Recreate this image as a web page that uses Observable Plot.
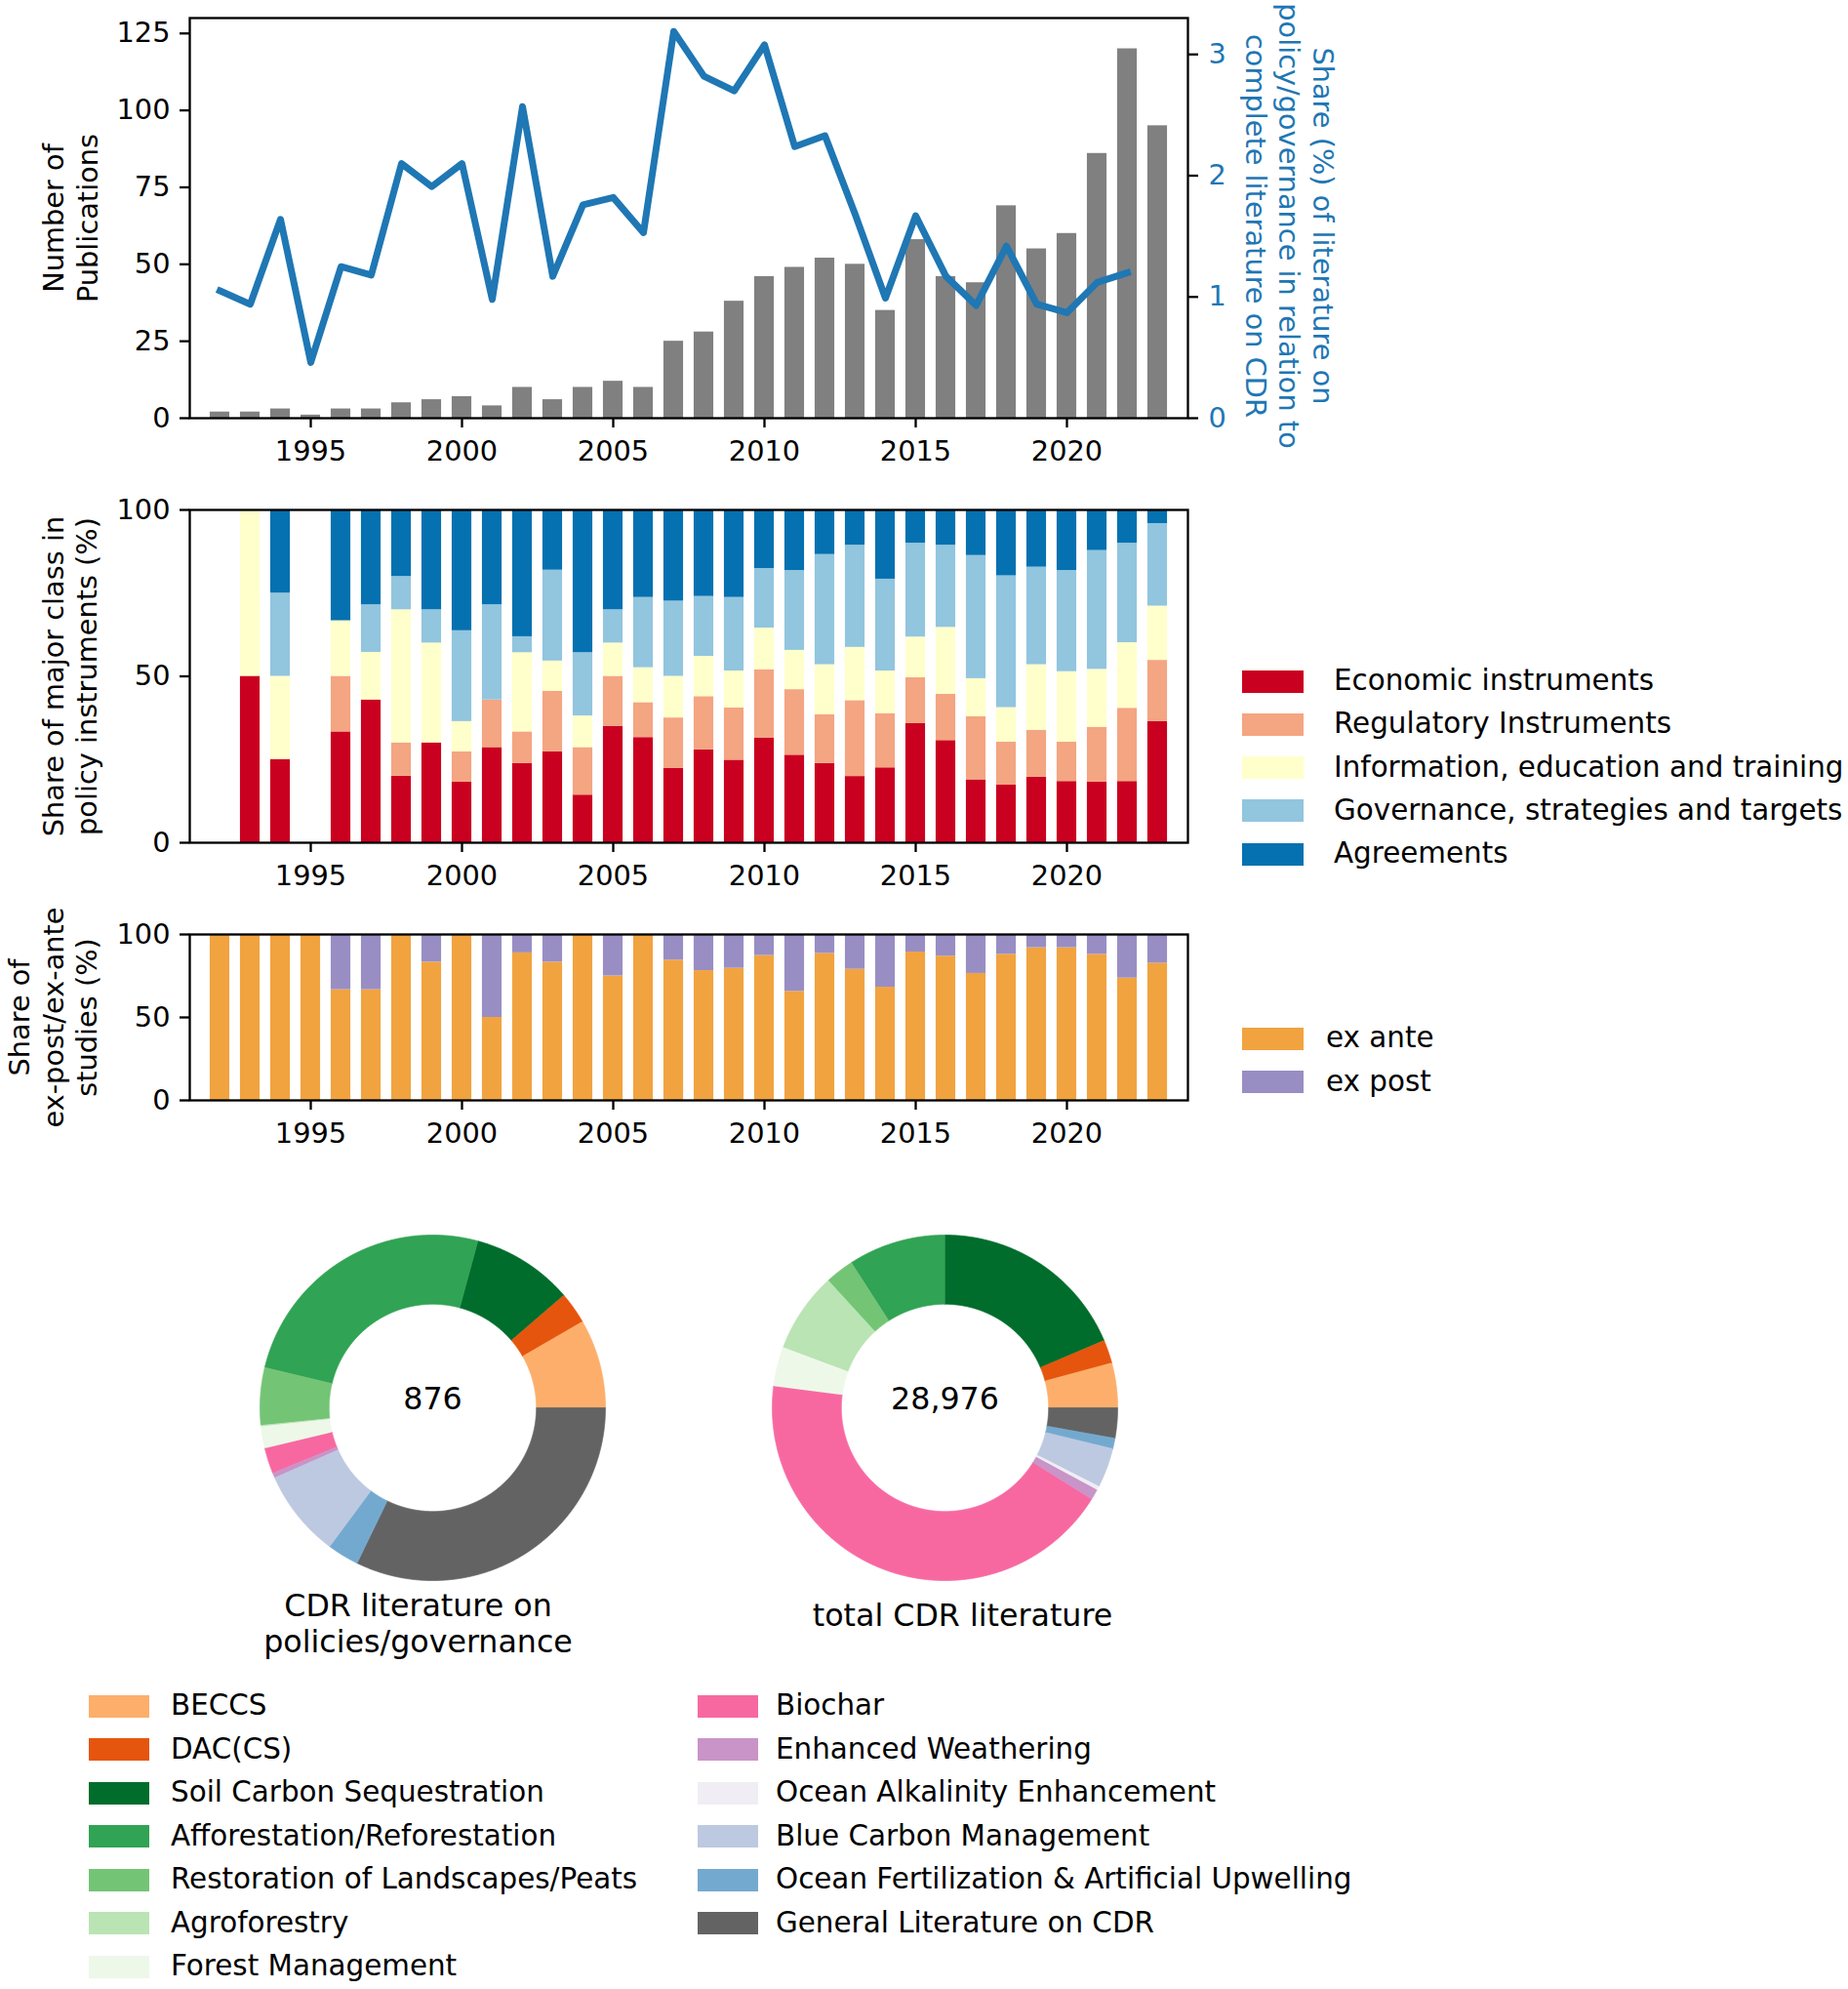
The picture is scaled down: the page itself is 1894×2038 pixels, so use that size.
<!DOCTYPE html>
<html><head><meta charset="utf-8">
<script src="https://cdn.jsdelivr.net/npm/d3@7"></script>
<script src="https://cdn.jsdelivr.net/npm/@observablehq/plot@0.6"></script>
<style>
body{margin:0;background:#fff;}
#root{position:relative;width:1894px;height:2038px;font-family:"DejaVu Sans",sans-serif;color:#000;overflow:hidden;background:#fff;}
.sw{position:absolute;}
.tx{position:absolute;font-size:29.4px;line-height:1;white-space:nowrap;transform:translateY(-50%);}
</style></head><body><div id="root"></div>
<script>
// ---------------- DATA ----------------
const years = [1992,1993,1994,1995,1996,1997,1998,1999,2000,2001,2002,2003,2004,2005,2006,2007,2008,2009,2010,2011,2012,2013,2014,2015,2016,2017,2018,2019,2020,2021,2022,2023];
const publications = [2,2,3,1,3,3,5,6,7,4,10,6,10,12,10,25,28,38,46,49,52,50,35,58,46,44,69,55,60,86,120,95];
// share (%) of policy/governance literature, 1992-2022
const shareYears = [1992,1993,1994,1995,1996,1997,1998,1999,2000,2001,2002,2003,2004,2005,2006,2007,2008,2009,2010,2011,2012,2013,2014,2015,2016,2017,2018,2019,2020,2021,2022];
const share = [1.05,0.94,1.64,0.46,1.25,1.18,2.10,1.91,2.10,0.98,2.57,1.17,1.76,1.82,1.53,3.19,2.82,2.70,3.08,2.24,2.33,1.68,0.99,1.67,1.17,0.93,1.42,0.94,0.87,1.12,1.20];

const classes = ["Economic instruments","Regulatory Instruments","Information, education and training","Governance, strategies and targets","Agreements"];
const classColors = ["#ca0020","#f4a582","#ffffcc","#92c5de","#0571b0"];
const economic    = [0,50,25,0,33.3,42.9,20,30,18.2,28.6,23.8,27.3,14.3,35,31.6,22.3,27.9,24.8,31.5,26.3,23.8,19.9,22.5,35.8,30.7,18.9,17.3,19.7,18.4,18.2,18.4,36.4];
const regulatory  = [0,0,0,0,16.7,0,10,0,9.1,14.3,9.5,18.2,14.3,15,10.5,15.2,16.0,15.7,20.5,19.7,14.7,22.8,16.3,13.8,13.9,19.0,12.9,14.1,11.8,16.5,22.0,18.4];
const information = [0,50,25,0,16.7,14.3,40,30,9.1,0,23.8,9.1,9.5,10,10.5,12.5,12.1,11.1,12.5,11.8,15.0,16.0,12.8,12.2,20.1,11.4,10.4,19.7,21.2,17.4,19.7,16.3];
const governance  = [0,0,25,0,0,14.3,10,10,27.3,28.6,4.8,27.3,19.0,10,21.1,22.6,18.0,22.1,17.9,24.0,33.1,30.7,27.6,28.2,24.7,37.0,39.6,29.3,30.4,35.7,29.9,24.8];
const agreements  = [0,0,25,0,33.3,28.5,20,30,36.3,28.5,38.1,18.1,42.9,30,26.3,27.4,26.0,26.3,17.6,18.2,13.4,10.6,20.8,10.0,10.6,13.7,19.8,17.2,18.2,12.2,10.0,4.1];

const studyTypes = ["ex ante","ex post"];
const studyColors = ["#f1a340","#998ec3"];
const exAnte = [100,100,100,100,66.7,66.7,100,83.3,100,50,88.9,83.3,100,75,100,84.5,78.2,79.6,87.3,65.7,88.6,79,68.2,89.4,86.9,76.5,88,92,92,88,73.7,82.7];
const exPost = [0,0,0,0,33.3,33.3,0,16.7,0,50,11.1,16.7,0,25,0,15.5,21.8,20.4,12.7,34.3,11.4,21,31.8,10.6,13.1,23.5,12,8,8,12,26.3,17.3];

const techs = ["BECCS","DAC(CS)","Soil Carbon Sequestration","Afforestation/Reforestation","Restoration of Landscapes/Peats","Agroforestry","Forest Management","Biochar","Enhanced Weathering","Ocean Alkalinity Enhancement","Blue Carbon Management","Ocean Fertilization & Artificial Upwelling","General Literature on CDR"];
const techColors = ["#fdae6b","#e6550d","#006d2c","#31a354","#74c476","#bae4b3","#edf8e9","#f768a1","#c994c7","#f0edf5","#bdc9e1","#74a9cf","#636363"];
const policyCounts = [73,26,83,223,47,1,18,21,4,0,72,26,282];
const totalCounts = [1217,637,5390,2637,782,2173,1072,12501,290,104,1072,290,811];

const xTicks = [1995,2000,2005,2010,2015,2020];

// ---------------- LAYOUT ----------------
const root = document.getElementById("root");
const FF = "DejaVu Sans";
const FS = 28.8;
const SW = 2.3;
const halfBar = 0.325;
function place(el, left, top){ el.style.position="absolute"; el.style.left=left+"px"; el.style.top=top+"px"; root.appendChild(el); return el; }
const baseStyle = {fontFamily:FF, fontSize:FS+"px", background:"transparent", color:"black", overflow:"visible"};
const xAxis = () => Plot.axisX({ticks:xTicks, tickFormat:"d", tickSize:10, tickPadding:13, strokeWidth:SW, label:null, fontSize:FS});

// Panel 1: publications bars
const pubData = years.map((y,i)=>({year:y, n:publications[i]}));
place(Plot.plot({
  width:1500, height:480, marginLeft:194, marginRight:283, marginTop:18, marginBottom:52,
  style:baseStyle,
  x:{domain:[1991,2024]}, y:{domain:[0,130]},
  marks:[
    Plot.rectY(pubData,{x1:d=>d.year-halfBar, x2:d=>d.year+halfBar, y:"n", fill:"#808080"}),
    Plot.frame({stroke:"black", strokeWidth:SW}),
    xAxis(),
    Plot.axisY({ticks:[0,25,50,75,100,125], tickSize:10, tickPadding:10, strokeWidth:SW, label:null, fontSize:FS}),
    Plot.text(["Number of\nPublications"],{text:d=>d, frameAnchor:"left", rotate:-90, dx:-123, lineHeight:1.2, fontSize:FS, textAnchor:"middle", lineAnchor:"middle"})
  ]
}), 0, 0);

// Panel 1 overlay: share line (right axis)
const shareData = shareYears.map((y,i)=>({year:y, s:share[i]}));
place(Plot.plot({
  width:1500, height:480, marginLeft:194, marginRight:283, marginTop:18, marginBottom:52,
  style:baseStyle,
  x:{domain:[1991,2024], axis:null}, y:{domain:[0,3.3]},
  marks:[
    Plot.line(shareData,{x:"year", y:"s", stroke:"#1f77b4", strokeWidth:7, strokeLinejoin:"round", strokeLinecap:"square"}),
    Plot.axisY({anchor:"right", ticks:[0,1,2,3], tickFormat:d=>String(d), tickSize:10, tickPadding:11, stroke:"black", fill:"#1f77b4", strokeWidth:SW, label:null, fontSize:FS}),
    Plot.text(["Share (%) of literature on\npolicy/governance in relation to\ncomplete literature on CDR"],{text:d=>d, frameAnchor:"right", rotate:90, dx:105, dy:8, lineHeight:1.2, fontSize:FS, fill:"#1f77b4", textAnchor:"middle", lineAnchor:"middle"})
  ]
}), 0, 0);

// Panel 2: policy instruments stacked
const classValues = [economic, regulatory, information, governance, agreements];
const policyRows = [];
years.forEach((y,i)=>{
  let c = 0;
  classes.forEach((cls,k)=>{
    const v = classValues[k][i];
    if (v > 0) policyRows.push({year:y, cls, lo:c, hi:c+v});
    c += v;
  });
});
place(Plot.plot({
  width:1240, height:440, marginLeft:194, marginRight:23, marginTop:42, marginBottom:57,
  style:baseStyle,
  x:{domain:[1991,2024]}, y:{domain:[0,100]},
  color:{domain:classes, range:classColors},
  marks:[
    Plot.rect(policyRows,{x1:d=>d.year-halfBar, x2:d=>d.year+halfBar, y1:"lo", y2:"hi", fill:"cls"}),
    Plot.frame({stroke:"black", strokeWidth:SW}),
    xAxis(),
    Plot.axisY({ticks:[0,50,100], tickSize:10, tickPadding:10, strokeWidth:SW, label:null, fontSize:FS}),
    Plot.text(["Share of major class in\npolicy instruments (%)"],{text:d=>d, frameAnchor:"left", rotate:-90, dx:-123.5, lineHeight:1.2, fontSize:FS, textAnchor:"middle", lineAnchor:"middle"})
  ]
}), 0, 480);

// Panel 3: ex ante / ex post
const studyValues = [exAnte, exPost];
const studyRows = [];
years.forEach((y,i)=>{
  let c = 0;
  studyTypes.forEach((t,k)=>{
    const v = studyValues[k][i];
    if (v > 0) studyRows.push({year:y, t, lo:c, hi:c+v});
    c += v;
  });
});
place(Plot.plot({
  width:1240, height:270, marginLeft:194, marginRight:23, marginTop:37, marginBottom:63,
  style:baseStyle,
  x:{domain:[1991,2024]}, y:{domain:[0,100]},
  color:{domain:studyTypes, range:studyColors},
  marks:[
    Plot.rect(studyRows,{x1:d=>d.year-halfBar, x2:d=>d.year+halfBar, y1:"lo", y2:"hi", fill:"t"}),
    Plot.frame({stroke:"black", strokeWidth:SW}),
    xAxis(),
    Plot.axisY({ticks:[0,50,100], tickSize:10, tickPadding:10, strokeWidth:SW, label:null, fontSize:FS}),
    Plot.text(["Share of\nex-post/ex-ante\nstudies (%)"],{text:d=>d, frameAnchor:"left", rotate:-90, dx:-141, lineHeight:1.2, fontSize:FS, textAnchor:"middle", lineAnchor:"middle"})
  ]
}), 0, 920);

// Legends (HTML)
function legend(items, colors, swLeft, txLeft, y0, step, swW, swH){
  items.forEach((t,i)=>{
    const cy = y0 + i*step;
    const s = document.createElement("div"); s.className="sw";
    s.style.width=swW+"px"; s.style.height=swH+"px"; s.style.background=colors[i];
    place(s, swLeft, cy - swH/2);
    const d = document.createElement("div"); d.className="tx"; d.textContent=t;
    place(d, txLeft, cy);
  });
}
legend(classes, classColors, 1273, 1367, 698, 44.3, 63, 23);
legend(studyTypes, studyColors, 1273, 1359, 1064, 44.5, 63, 23);
legend(techs.slice(0,7), techColors.slice(0,7), 91, 175, 1748, 44.5, 62, 23);
legend(techs.slice(7), techColors.slice(7), 715, 795, 1748, 44.5, 62, 23);

// Donuts
const INNER = 0.6;
const R = 200/177;
function donutPoints(counts){
  const total = d3.sum(counts);
  let acc = 0; const pts = [];
  techs.forEach((t,i)=>{
    const v = counts[i];
    if (!v) return;
    const a0 = acc/total*2*Math.PI; acc += v; const a1 = acc/total*2*Math.PI;
    const n = Math.max(2, Math.ceil((a1-a0)/0.004));
    for (let j=0;j<=n;j++){ const a=a0+(a1-a0)*j/n; pts.push({tech:t, px:Math.cos(a), py:Math.sin(a)}); }
    for (let j=n;j>=0;j--){ const a=a0+(a1-a0)*j/n; pts.push({tech:t, px:INNER*Math.cos(a), py:INNER*Math.sin(a)}); }
  });
  return pts;
}
function donut(counts, left, title, titleDx, titleDy){
  const total = d3.sum(counts);
  place(Plot.plot({
    width:400, height:490, marginLeft:0, marginRight:0, marginTop:0, marginBottom:90,
    style:baseStyle,
    x:{domain:[-R,R], axis:null}, y:{domain:[-R,R], axis:null},
    color:{domain:techs, range:techColors},
    marks:[
      Plot.line(donutPoints(counts),{x:"px", y:"py", z:"tech", fill:"tech", stroke:"tech", strokeWidth:0.8}),
      Plot.text([d3.format(",")(total)],{text:d=>d, frameAnchor:"middle", dy:-9, fontSize:31.7, fill:"black"}),
      Plot.text([title],{text:d=>d, frameAnchor:"bottom", dx:titleDx, dy:titleDy, lineHeight:1.167, fontSize:31.7, fill:"black", textAnchor:"middle", lineAnchor:"middle"})
    ]
  }), left, 1242);
}
donut(policyCounts, 243, "CDR literature on\npolicies/governance", -15, 20);
donut(totalCounts, 768, "total CDR literature", 18, 12);
</script></body></html>
